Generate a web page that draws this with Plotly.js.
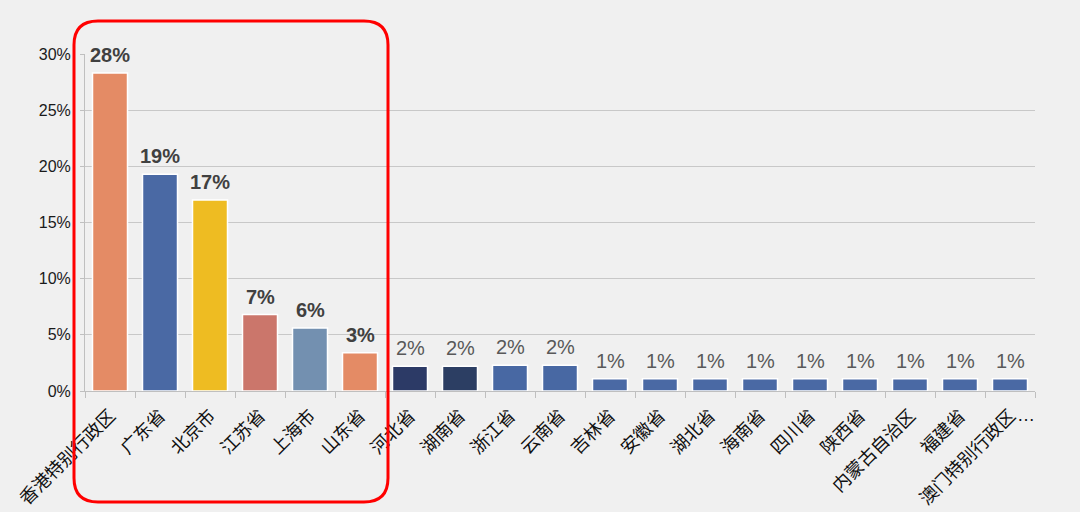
<!DOCTYPE html>
<html>
<head>
<meta charset="utf-8">
<script src="https://cdn.plot.ly/plotly-3.0.1.min.js"></script>
<style>html,body{margin:0;padding:0;background:#f0f0f0;}#chart{width:1080px;height:512px;}</style>
</head>
<body>
<div id="chart"></div>
<script>
// Data
const regions = ["香港特别行政区","广东省","北京市","江苏省","上海市","山东省","河北省","湖南省","浙江省","云南省","吉林省","安徽省","湖北省","海南省","四川省","陕西省","内蒙古自治区","福建省","澳门特别行政区"];
const shares = [28.3, 19.3, 17.0, 6.8, 5.6, 3.4, 2.2, 2.2, 2.3, 2.3, 1.1, 1.1, 1.1, 1.1, 1.1, 1.1, 1.1, 1.1, 1.1];
const barColors = ["#E48B65","#4A69A4","#EEBC22","#CB766B","#7390B0","#E48B65","#2C3A66","#2C3E63","#4868A3","#4868A3","#4A69A4","#4A69A4","#4A69A4","#4A69A4","#4A69A4","#4A69A4","#4A69A4","#4A69A4","#4A69A4"];
const highlightCount = 6;
const yTicks = [0, 5, 10, 15, 20, 25, 30];

const W = 1080, H = 512;
const M = {l: 85, r: 45, t: 54, b: 121};
const pw = W - M.l - M.r, ph = H - M.t - M.b;
const px = x => (x - M.l) / pw;
const py = y => (H - M.b - y) / ph;

const FONT = 'Liberation Sans, Arial, Noto Sans CJK SC, sans-serif';

// value labels as annotations above bars
const valueLabels = shares.map((v, i) => ({
  xref: 'x', yref: 'y', x: regions[i], y: v,
  yanchor: 'bottom', yshift: 5,
  text: i < highlightCount ? '<b>' + Math.round(v) + '%</b>' : Math.round(v) + '%',
  showarrow: false,
  font: {family: FONT, size: 20, color: i < highlightCount ? '#404040' : '#595959'}
}));

// rounded rectangle highlight
function roundRect(x0, y0, x1, y1, r) {
  const f = (x, y) => px(x).toFixed(5) + ',' + py(y).toFixed(5);
  return 'M' + f(x0 + r, y0) + ' L' + f(x1 - r, y0) + ' Q' + f(x1, y0) + ' ' + f(x1, y0 + r) +
    ' L' + f(x1, y1 - r) + ' Q' + f(x1, y1) + ' ' + f(x1 - r, y1) +
    ' L' + f(x0 + r, y1) + ' Q' + f(x0, y1) + ' ' + f(x0, y1 - r) +
    ' L' + f(x0, y0 + r) + ' Q' + f(x0, y0) + ' ' + f(x0 + r, y0) + ' Z';
}

const trace = {
  type: 'bar',
  x: regions,
  y: shares,
  marker: {color: barColors, line: {color: '#ffffff', width: 1.5}},
  hoverinfo: 'skip'
};

const layout = {
  width: W, height: H,
  margin: M,
  paper_bgcolor: '#f0f0f0',
  plot_bgcolor: '#f0f0f0',
  showlegend: false,
  bargap: 0.3,
  font: {family: FONT, color: '#222'},
  xaxis: {
    type: 'category',
    tickson: 'boundaries',
    ticks: 'outside', ticklen: 6, tickcolor: '#bfbfbf',
    showgrid: false,
    showline: true, linecolor: '#bfbfbf', linewidth: 1,
    tickangle: -45,
    tickfont: {family: 'Noto Sans CJK SC, sans-serif', size: 18, color: '#111'},
    ticklabelstandoff: 6,
    automargin: false,
    fixedrange: true
  },
  yaxis: {
    range: [0, 30],
    tickvals: yTicks,
    ticktext: yTicks.map(v => v + '%'),
    ticks: 'outside', ticklen: 4, tickcolor: '#bfbfbf',
    showgrid: true, gridcolor: '#c8c8c8', gridwidth: 1,
    showline: true, linecolor: '#bfbfbf', linewidth: 1,
    zeroline: false,
    tickfont: {family: FONT, size: 16, color: '#1a1a1a'},
    ticklabelstandoff: 6,
    automargin: false,
    fixedrange: true
  },
  annotations: valueLabels.concat([{
    xref: 'paper', yref: 'paper', x: px(1037), y: py(427), text: '…',
    showarrow: false, font: {family: FONT, size: 18, color: '#111'}
  }]),
  shapes: [{
    type: 'path', xref: 'paper', yref: 'paper',
    path: roundRect(74, 21, 388, 502, 24),
    line: {color: '#ff0000', width: 3},
    fillcolor: 'rgba(0,0,0,0)'
  }]
};

Plotly.newPlot('chart', [trace], layout, {displayModeBar: false, staticPlot: true});
</script>
</body>
</html>
